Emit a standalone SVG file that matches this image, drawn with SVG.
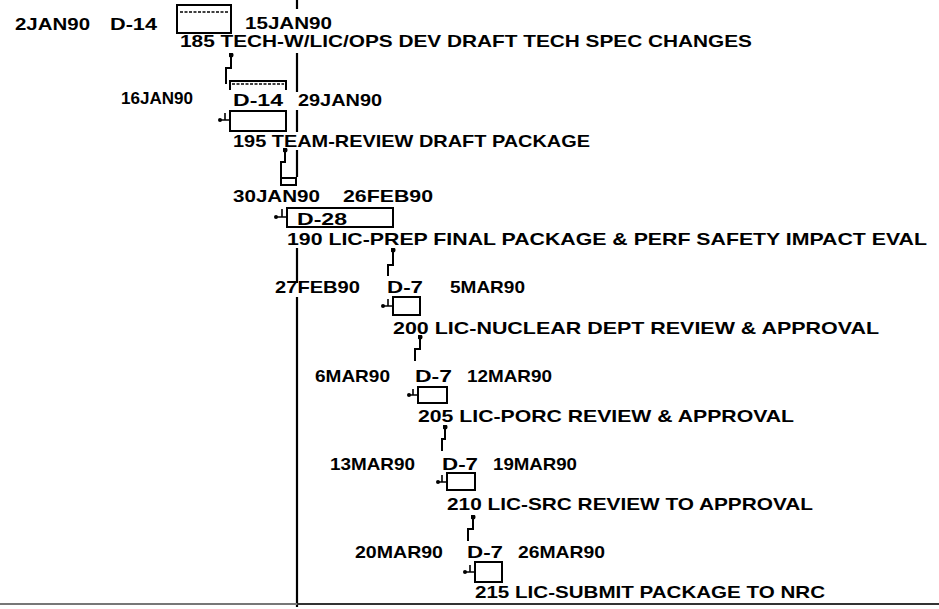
<svg xmlns="http://www.w3.org/2000/svg" width="939" height="609" viewBox="0 0 939 609">
<style>
  text { font-family: "Liberation Sans", Arial, sans-serif; font-size: 17px; font-weight: bold; fill: #000; }
  .box { fill: #fff; stroke: #000; stroke-width: 2; }
  .mini { fill: none; stroke: #000; stroke-width: 2; }
  .dash { fill: none; stroke: #000; stroke-width: 1.5; stroke-dasharray: 3 1.5; }
  .link { fill: none; stroke: #000; stroke-width: 2; }
  .entry { fill: none; stroke: #000; stroke-width: 1.6; }
  .axis { fill: none; stroke: #000; stroke-width: 2.2; }
</style>
<defs>
  <marker id="dot" viewBox="0 0 6 6" refX="3" refY="3" markerWidth="5" markerHeight="5" markerUnits="userSpaceOnUse">
    <circle cx="3" cy="3" r="3" fill="#000"/>
  </marker>
  <marker id="head" viewBox="0 0 6 6" refX="3" refY="3" markerWidth="4" markerHeight="4" markerUnits="userSpaceOnUse">
    <circle cx="3" cy="3" r="3" fill="#000"/>
  </marker>
</defs>
<rect width="939" height="609" fill="#fff"/>

<g id="time-axis">
  <path class="axis" d="M297,0 V9 M297,53 V92 M297,110 V132 M297,150 V177 M297,248 V283 M297,297 V607"/>
  <path d="M0,604 H297" stroke="#777" stroke-width="2" fill="none"/>
  <path d="M297,604 H939" stroke="#333" stroke-width="2" fill="none"/>
</g>

<g id="connectors">
  <path class="link" marker-start="url(#dot)" d="M231,55 V68 H226 V84"/>
  <path class="mini" d="M230,90 V81 H286 V90"/>
  <path class="dash" d="M232,84 H284"/>
  <path class="link" marker-start="url(#dot)" d="M285,150 V162 H281 V180"/>
  <rect x="281" y="178" width="15" height="7" class="mini"/>
  <path class="link" marker-start="url(#dot)" d="M393,250 V265 H388 V276"/>
  <path class="link" marker-start="url(#dot)" d="M420,337 V349 H415 V361"/>
  <path class="link" marker-start="url(#dot)" d="M445,427 V439 H442 V451"/>
  <path class="link" marker-start="url(#dot)" d="M473,517 V529 H468 V541"/>
</g>

<g id="task-185">
  <text x="15" y="30" textLength="75" lengthAdjust="spacingAndGlyphs">2JAN90</text>
  <text x="110" y="30" textLength="47" lengthAdjust="spacingAndGlyphs">D-14</text>
  <rect class="box" x="177" y="5" width="54" height="28"/>
  <path class="dash" d="M180,12 H228"/>
  <text x="245" y="29" textLength="87" lengthAdjust="spacingAndGlyphs">15JAN90</text>
  <text x="180" y="47" textLength="572" lengthAdjust="spacingAndGlyphs">185 TECH-W/LIC/OPS DEV DRAFT TECH SPEC CHANGES</text>
</g>

<g id="task-195">
  <text x="121" y="104" textLength="72" lengthAdjust="spacingAndGlyphs">16JAN90</text>
  <text x="233" y="106" textLength="50" lengthAdjust="spacingAndGlyphs">D-14</text>
  <text x="298" y="106" textLength="84" lengthAdjust="spacingAndGlyphs">29JAN90</text>
  <path class="entry" marker-start="url(#head)" d="M220,120 H230 M225,113 V120"/>
  <rect class="box" x="230" y="111" width="56" height="20"/>
  <text x="233" y="147" textLength="357" lengthAdjust="spacingAndGlyphs">195 TEAM-REVIEW DRAFT PACKAGE</text>
</g>

<g id="task-190">
  <text x="233" y="202" textLength="87" lengthAdjust="spacingAndGlyphs">30JAN90</text>
  <text x="343" y="202" textLength="90" lengthAdjust="spacingAndGlyphs">26FEB90</text>
  <path class="entry" marker-start="url(#head)" d="M276,217 H287 M282,209 V217"/>
  <rect class="box" x="287" y="208" width="106" height="19"/>
  <text x="297" y="225" textLength="50" lengthAdjust="spacingAndGlyphs">D-28</text>
  <text x="287" y="245" textLength="640" lengthAdjust="spacingAndGlyphs">190 LIC-PREP FINAL PACKAGE &amp; PERF SAFETY IMPACT EVAL</text>
</g>

<g id="task-200">
  <text x="275" y="293" textLength="85" lengthAdjust="spacingAndGlyphs">27FEB90</text>
  <text x="387" y="293" textLength="36" lengthAdjust="spacingAndGlyphs">D-7</text>
  <text x="450" y="293" textLength="75" lengthAdjust="spacingAndGlyphs">5MAR90</text>
  <path class="entry" marker-start="url(#head)" d="M383,306 H393 M388,299 V306"/>
  <rect class="box" x="393" y="297" width="27" height="18"/>
  <text x="393" y="334" textLength="486" lengthAdjust="spacingAndGlyphs">200 LIC-NUCLEAR DEPT REVIEW &amp; APPROVAL</text>
</g>

<g id="task-205">
  <text x="315" y="382" textLength="75" lengthAdjust="spacingAndGlyphs">6MAR90</text>
  <text x="415" y="382" textLength="37" lengthAdjust="spacingAndGlyphs">D-7</text>
  <text x="467" y="382" textLength="85" lengthAdjust="spacingAndGlyphs">12MAR90</text>
  <path class="entry" marker-start="url(#head)" d="M409,395 H418 M413,389 V395"/>
  <rect class="box" x="418" y="387" width="29" height="16"/>
  <text x="418" y="422" textLength="376" lengthAdjust="spacingAndGlyphs">205 LIC-PORC REVIEW &amp; APPROVAL</text>
</g>

<g id="task-210">
  <text x="330" y="470" textLength="85" lengthAdjust="spacingAndGlyphs">13MAR90</text>
  <text x="442" y="470" textLength="36" lengthAdjust="spacingAndGlyphs">D-7</text>
  <text x="493" y="470" textLength="84" lengthAdjust="spacingAndGlyphs">19MAR90</text>
  <path class="entry" marker-start="url(#head)" d="M438,482 H447 M442,475 V482"/>
  <rect class="box" x="447" y="473" width="28" height="17"/>
  <text x="447" y="510" textLength="366" lengthAdjust="spacingAndGlyphs">210 LIC-SRC REVIEW TO APPROVAL</text>
</g>

<g id="task-215">
  <text x="355" y="558" textLength="88" lengthAdjust="spacingAndGlyphs">20MAR90</text>
  <text x="467" y="558" textLength="36" lengthAdjust="spacingAndGlyphs">D-7</text>
  <text x="518" y="558" textLength="87" lengthAdjust="spacingAndGlyphs">26MAR90</text>
  <path class="entry" marker-start="url(#head)" d="M465,572 H475 M470,565 V572"/>
  <rect class="box" x="475" y="562" width="27" height="20"/>
  <text x="475" y="598" textLength="350" lengthAdjust="spacingAndGlyphs">215 LIC-SUBMIT PACKAGE TO NRC</text>
</g>
</svg>
